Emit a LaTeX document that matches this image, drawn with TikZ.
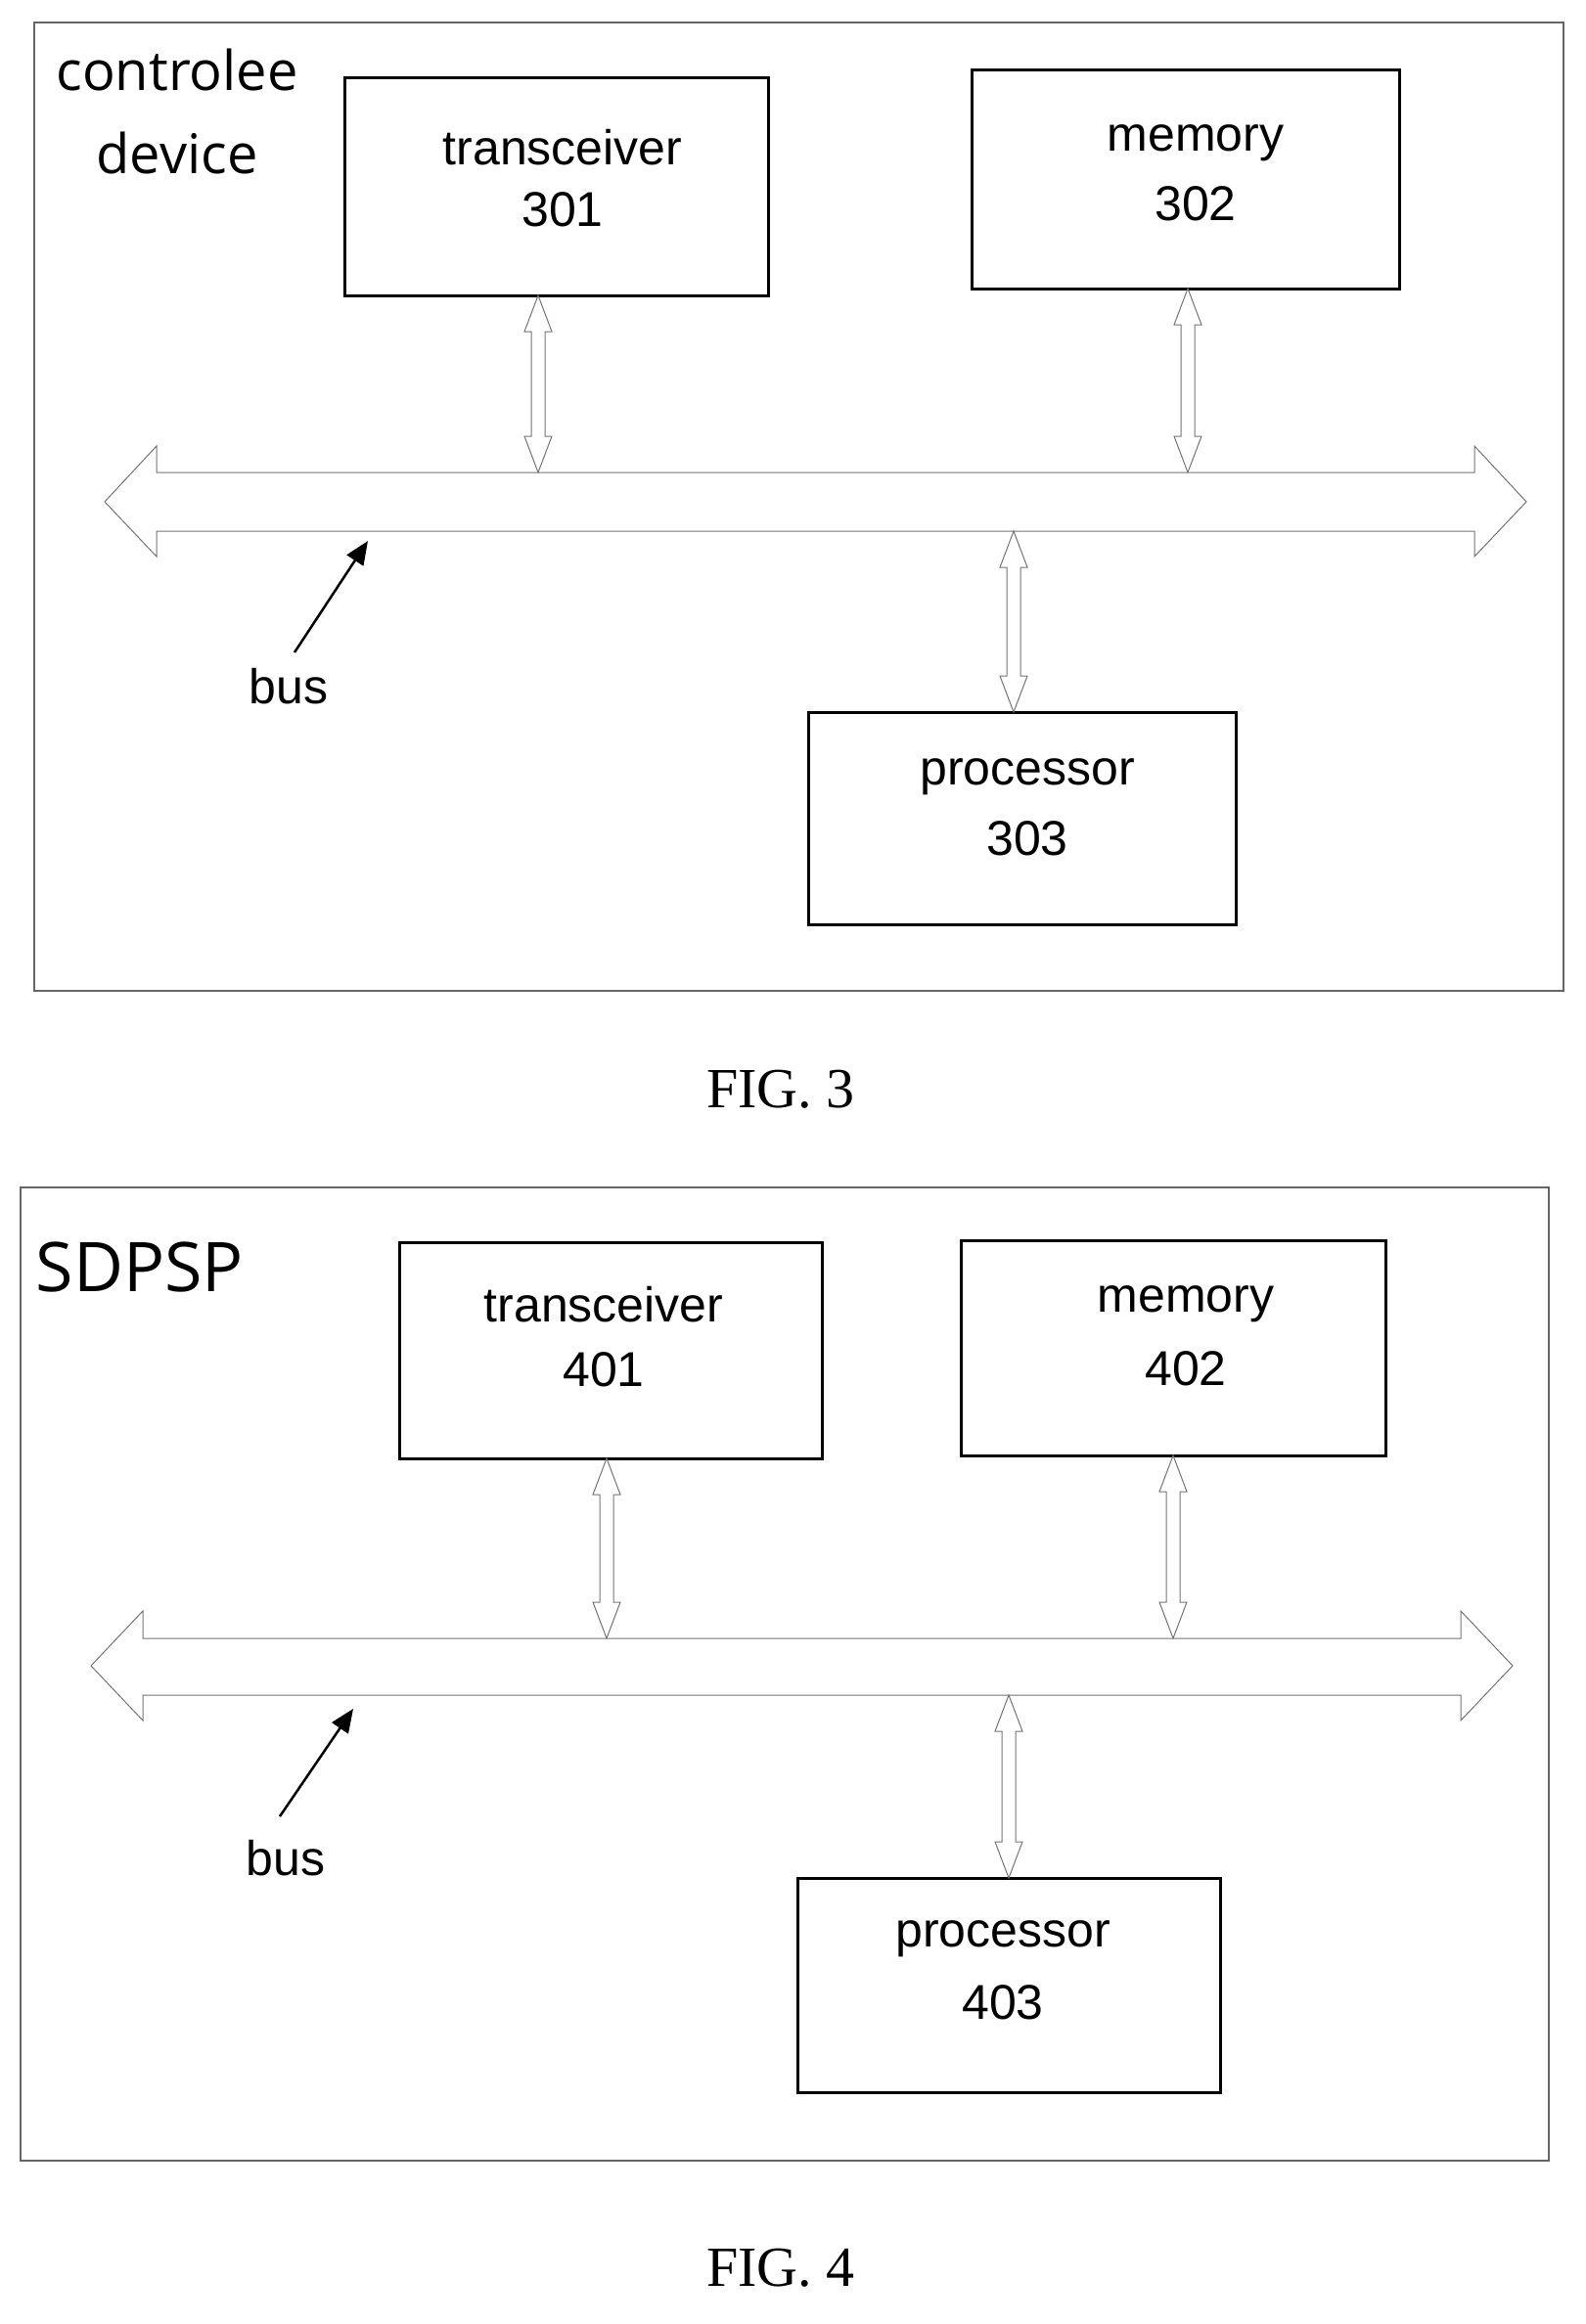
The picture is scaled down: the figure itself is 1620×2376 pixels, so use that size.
\documentclass[tikz,border=0pt]{standalone}
\usepackage{fontspec}
\setmainfont{Liberation Serif}
\setsansfont{Liberation Sans}
\newfontfamily\osans{Open Sans}
\usetikzlibrary{arrows.meta}
\newcommand\vdarrow[3]{% x, ytop, ybottom
  \draw[busline] (#1,#2) -- (#1+14,#2+37) -- (#1+7,#2+37) -- (#1+7,#3-37) -- (#1+14,#3-37) -- (#1,#3)
   -- (#1-14,#3-37) -- (#1-7,#3-37) -- (#1-7,#2+37) -- (#1-14,#2+37) -- cycle;}
\newcommand\busarrow[7]{% xl, xr, yc, headtop, shafttop, shaftbot, headbot
  \draw[busline] (#1,#3) -- (#1+53,#4) -- (#1+53,#5) -- (#2-53,#5) -- (#2-53,#4) -- (#2,#3)
   -- (#2-53,#7) -- (#2-53,#6) -- (#1+53,#6) -- (#1+53,#7) -- cycle;}
\begin{document}
\begin{tikzpicture}[x=1pt,y=-1pt,
  outer/.style={draw=black!60,line width=1.5pt},
  box/.style={draw=black,line width=3pt},
  busline/.style={draw=black!55,line width=1pt},
  lbl/.style={font=\sffamily\fontsize{50}{60}\selectfont,align=center},
  ptr/.style={line width=2.5pt,-{Triangle[length=24pt,width=20pt]}},
  fig/.style={font=\fontsize{58}{70}\selectfont}]
\useasboundingbox (0,0) rectangle (1620,2376);
% FIG 3
\draw[outer] (35,23) rectangle (1598,1013);
\node[font=\osans\fontsize{56}{66}\selectfont] (c1) at (181,72) {controlee};
\node[font=\osans\fontsize{56}{66}\selectfont] (c2) at (181,157) {device};
\draw[box] (352,80) rectangle (785,302);
\node[lbl] (t301a) at (575,151) {transceiver};
\node[lbl] (t301b) at (575,214) {301};
\draw[box] (993,72) rectangle (1430,295);
\node[lbl] (m302a) at (1222,146) {memory};
\node[lbl] (m302b) at (1222,208) {302};
\draw[box] (826,728) rectangle (1263,945);
\node[lbl] (p303a) at (1050,794) {processor};
\node[lbl] (p303b) at (1050,857) {303};
\busarrow{107}{1560}{513}{456}{483}{543}{569}
\vdarrow{550}{302}{483}
\vdarrow{1214}{295}{483}
\vdarrow{1036}{543}{728}
\coordinate (b3s) at (301,667);
\coordinate (b3e) at (376,553);
\draw[ptr] (b3s) -- (b3e);
\node[lbl] (bus3) at (295,702) {bus};
\node[fig] (f3) at (798,1114) {FIG. 3};
% FIG 4
\draw[outer] (21,1214) rectangle (1583,2209);
\node[font=\osans\fontsize{70}{80}\selectfont] (sd) at (143,1295) {SDPSP};
\draw[box] (408,1270) rectangle (840,1491);
\node[lbl] (t401a) at (617,1334) {transceiver};
\node[lbl] (t401b) at (617,1400) {401};
\draw[box] (982,1268) rectangle (1416,1488);
\node[lbl] (m402a) at (1212,1333) {memory};
\node[lbl] (m402b) at (1212,1399) {402};
\draw[box] (815,1920) rectangle (1247,2139);
\node[lbl] (p403a) at (1025,1982) {processor};
\node[lbl] (p403b) at (1025,2047) {403};
\busarrow{93}{1546}{1703}{1647}{1675}{1733}{1759}
\vdarrow{620}{1491}{1675}
\vdarrow{1199}{1488}{1675}
\vdarrow{1031}{1733}{1920}
\coordinate (b4s) at (286,1857);
\coordinate (b4e) at (361,1747);
\draw[ptr] (b4s) -- (b4e);
\node[lbl] (bus4) at (292,1900) {bus};
\node[fig] (f4) at (798,2319) {FIG. 4};
\end{tikzpicture}
\end{document}
